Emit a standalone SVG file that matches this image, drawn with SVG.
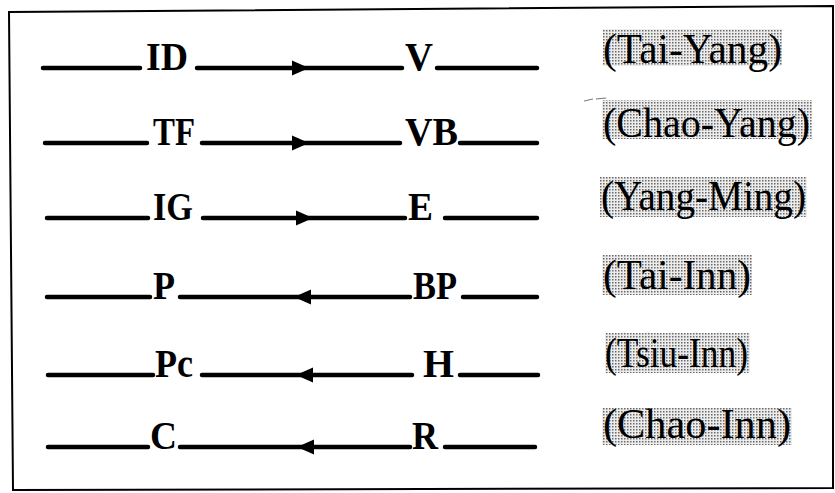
<svg xmlns="http://www.w3.org/2000/svg" width="835" height="493" viewBox="0 0 835 493">
  <defs>
    <pattern id="dots" width="3" height="3" patternUnits="userSpaceOnUse">
      <rect width="3" height="3" fill="#ececec"/>
      <rect width="1.5" height="1.5" fill="#6a6a6a"/>
    </pattern>
    <path id="ahR" d="M-17,-7.5 L0,0 L-17,7.5 z" fill="#000"/>
    <path id="ahL" d="M17,-7.5 L0,0 L17,7.5 z" fill="#000"/>
    <style>
      .ln{stroke:#000;stroke-width:4.5;stroke-linecap:round;fill:none}
      .node{font-family:"Liberation Serif","Times New Roman",serif;font-weight:bold;font-size:40px;fill:#000}
      .mer{font-family:"Liberation Serif","Times New Roman",serif;font-size:42px;fill:#000}
      .bg{fill:url(#dots)}
    </style>
  </defs>
  <rect width="835" height="493" fill="#fff"/>
  <path d="M9,12 L833,6 L833,488 L13,490 Z" fill="none" stroke="#000" stroke-width="2"/>
  <path d="M584,101 L593,99 M596,99 L606,98" stroke="#777" stroke-width="1" fill="none"/>

  <g id="connectors">
    <path class="ln" d="M43,68 H140"/>
    <path class="ln" d="M197,68 H402"/>
    <use href="#ahR" x="309" y="68"/>
    <path class="ln" d="M437,68 H537"/>

    <path class="ln" d="M45,143 H147"/>
    <path class="ln" d="M202,143 H400"/>
    <use href="#ahR" x="309" y="143"/>
    <path class="ln" d="M460,143 H537"/>

    <path class="ln" d="M47,218 H148"/>
    <path class="ln" d="M203,218 H405"/>
    <use href="#ahR" x="313" y="218"/>
    <path class="ln" d="M445,218 H537"/>

    <path class="ln" d="M47,297 H150"/>
    <path class="ln" d="M180,297 H410"/>
    <use href="#ahL" x="294" y="297"/>
    <path class="ln" d="M463,297 H537"/>

    <path class="ln" d="M48,375 H153"/>
    <path class="ln" d="M202,375 H412"/>
    <use href="#ahL" x="296" y="375"/>
    <path class="ln" d="M460,375 H538"/>

    <path class="ln" d="M48,447 H148"/>
    <path class="ln" d="M180,447 H410"/>
    <use href="#ahL" x="297" y="447"/>
    <path class="ln" d="M445,447 H535"/>
  </g>

  <g id="node-ID"><text class="node" x="146" y="70" textLength="42" lengthAdjust="spacingAndGlyphs">ID</text></g>
  <g id="node-V"><text class="node" x="405" y="70" textLength="28" lengthAdjust="spacingAndGlyphs">V</text></g>
  <g id="node-TF"><text class="node" x="153" y="145" textLength="42" lengthAdjust="spacingAndGlyphs">TF</text></g>
  <g id="node-VB"><text class="node" x="405" y="145" textLength="53" lengthAdjust="spacingAndGlyphs">VB</text></g>
  <g id="node-IG"><text class="node" x="153" y="220" textLength="40" lengthAdjust="spacingAndGlyphs">IG</text></g>
  <g id="node-E"><text class="node" x="408" y="220" textLength="25" lengthAdjust="spacingAndGlyphs">E</text></g>
  <g id="node-P"><text class="node" x="153" y="299" textLength="22" lengthAdjust="spacingAndGlyphs">P</text></g>
  <g id="node-BP"><text class="node" x="413" y="299" textLength="44" lengthAdjust="spacingAndGlyphs">BP</text></g>
  <g id="node-Pc"><text class="node" x="155" y="377" textLength="38" lengthAdjust="spacingAndGlyphs">Pc</text></g>
  <g id="node-H"><text class="node" x="423" y="377" textLength="31" lengthAdjust="spacingAndGlyphs">H</text></g>
  <g id="node-C"><text class="node" x="150" y="449" textLength="27" lengthAdjust="spacingAndGlyphs">C</text></g>
  <g id="node-R"><text class="node" x="412" y="449" textLength="26" lengthAdjust="spacingAndGlyphs">R</text></g>

  <g id="label-tai-yang"><rect class="bg" x="603" y="29" width="179" height="37"/><text class="mer" x="603" y="63" textLength="179" lengthAdjust="spacingAndGlyphs">(Tai-Yang)</text></g>
  <g id="label-chao-yang"><rect class="bg" x="602" y="100" width="210" height="39"/><text class="mer" x="603" y="137" textLength="207" lengthAdjust="spacingAndGlyphs">(Chao-Yang)</text></g>
  <g id="label-yang-ming"><rect class="bg" x="600" y="177" width="207" height="40"/><text class="mer" x="601" y="210" textLength="205" lengthAdjust="spacingAndGlyphs">(Yang-Ming)</text></g>
  <g id="label-tai-inn"><rect class="bg" x="602" y="255" width="150" height="40"/><text class="mer" x="603" y="289" textLength="148" lengthAdjust="spacingAndGlyphs">(Tai-Inn)</text></g>
  <g id="label-tsiu-inn"><rect class="bg" x="605" y="333" width="145" height="40"/><text class="mer" x="605" y="367" textLength="143" lengthAdjust="spacingAndGlyphs">(Tsiu-Inn)</text></g>
  <g id="label-chao-inn"><rect class="bg" x="602" y="408" width="190" height="37"/><text class="mer" x="603" y="438" textLength="188" lengthAdjust="spacingAndGlyphs">(Chao-Inn)</text></g>
</svg>
